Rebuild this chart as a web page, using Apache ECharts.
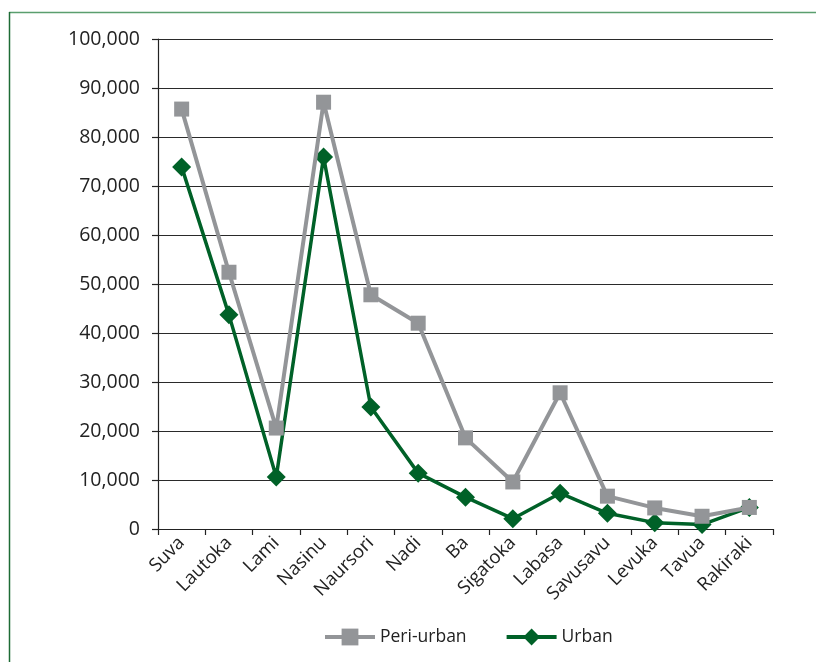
<!DOCTYPE html>
<html>
<head>
<meta charset="utf-8">
<script src="https://cdn.jsdelivr.net/npm/echarts@6/dist/echarts.min.js"></script>
<style>
  html, body { margin: 0; padding: 0; background: #fff; }
  #chart { width: 816px; height: 662px; }
</style>
</head>
<body>
<div id="chart"></div>
<script>
// Town names along the horizontal axis
const towns = ['Suva', 'Lautoka', 'Lami', 'Nasinu', 'Naursori', 'Nadi', 'Ba',
  'Sigatoka', 'Labasa', 'Savusavu', 'Levuka', 'Tavua', 'Rakiraki'];

// Population per town
const periUrban = [85700, 52400, 20600, 87100, 47800, 42000, 18600,
  9600, 27800, 6700, 4300, 2600, 4400];
const urban = [73900, 43700, 10600, 75900, 24900, 11400, 6500,
  2100, 7300, 3200, 1300, 900, 4400];

const yMin = 0;
const yMax = 100000;
const yStep = 10000;

const FONT = '"Open Sans", "Noto Sans", sans-serif';
const GREY = '#939598';
const GREEN = '#006128';

const chart = echarts.init(document.getElementById('chart'), null, { renderer: 'canvas' });

chart.setOption({
  backgroundColor: '#ffffff',
  animation: false,
  textStyle: { fontFamily: FONT },
  graphic: [
    // Frame around the figure
    { type: 'line', shape: { x1: 9, y1: 12.5, x2: 816, y2: 12.5 },
      style: { stroke: '#5a9e6e', lineWidth: 1.5 } },
    { type: 'line', shape: { x1: 9.5, y1: 12, x2: 9.5, y2: 662 },
      style: { stroke: '#1d6b35', lineWidth: 1.5 } }
  ],
  grid: { left: 158, right: 43, top: 39, bottom: 133, containLabel: false },
  legend: {
    top: 623,
    left: 318,
    itemWidth: 50,
    itemHeight: 21,
    itemGap: 38,
    lineStyle: { width: 4 },
    textStyle: { fontSize: 17.5, color: '#222', fontFamily: FONT },
    data: ['Peri-urban', 'Urban']
  },
  xAxis: {
    type: 'category',
    data: towns,
    boundaryGap: true,
    axisLine: { lineStyle: { color: '#222', width: 1.2 } },
    axisTick: { show: true, alignWithLabel: false, length: 6, lineStyle: { color: '#222', width: 1.2 } },
    axisLabel: { rotate: 45, fontSize: 18.5, color: '#222', margin: 11, fontFamily: FONT, interval: 0 },
    splitLine: { show: false }
  },
  yAxis: {
    type: 'value',
    min: yMin,
    max: yMax,
    interval: yStep,
    axisLine: { show: true, lineStyle: { color: '#222', width: 1.2 } },
    axisTick: { show: true, inside: false, length: 6, lineStyle: { color: '#222', width: 1.2 } },
    axisLabel: {
      fontSize: 19.5, color: '#222', margin: 18, fontFamily: FONT,
      formatter: v => v.toLocaleString('en-US')
    },
    splitLine: { show: true, lineStyle: { color: '#2a2a2a', width: 1.2 } }
  },
  series: [
    {
      name: 'Peri-urban',
      type: 'line',
      data: periUrban,
      symbol: 'rect',
      symbolSize: 15,
      showAllSymbol: true,
      color: GREY,
      lineStyle: { color: GREY, width: 4 },
      itemStyle: { color: GREY },
      emphasis: { disabled: true },
      z: 2
    },
    {
      name: 'Urban',
      type: 'line',
      data: urban,
      symbol: 'diamond',
      symbolSize: 19,
      showAllSymbol: true,
      color: GREEN,
      lineStyle: { color: GREEN, width: 3.5 },
      itemStyle: { color: GREEN },
      emphasis: { disabled: true },
      z: 1
    }
  ]
});
</script>
</body>
</html>
